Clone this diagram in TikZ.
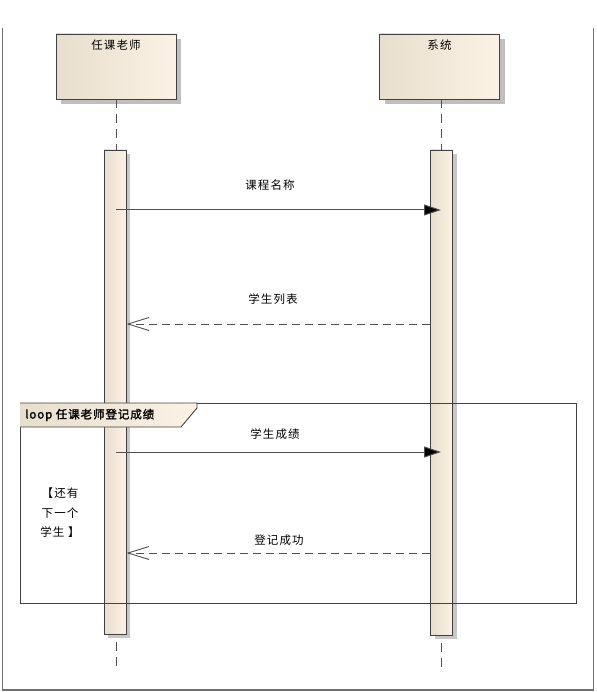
\documentclass[tikz,border=0pt]{standalone}
\usepackage{fontspec}
\setmainfont{Noto Sans CJK SC}[LetterSpace=10]
\newfontfamily\cjkbold{Noto Sans CJK SC}[FakeBold=1.6,LetterSpace=8]
\usetikzlibrary{arrows.meta,shadows}
\definecolor{beigeL}{HTML}{E8DECD}
\definecolor{beigeR}{HTML}{FBF2E5}
\definecolor{edge}{HTML}{404040}
\definecolor{msg}{HTML}{505050}
\definecolor{framec}{HTML}{707070}
\tikzset{
  actorbox/.style={draw=edge, line width=0.9pt, minimum width=120pt, minimum height=65pt,
    inner sep=0pt, shading=axis, left color=beigeL, middle color=beigeR, right color=beigeR,
    drop shadow={shadow xshift=5pt, shadow yshift=-5pt, fill=black!25, opacity=1}},
  actbar/.style={draw=edge, line width=0.9pt, minimum width=22pt, inner sep=0pt,
    shading=axis, left color=beigeL, middle color=beigeR, right color=beigeR,
    drop shadow={shadow xshift=4pt, shadow yshift=-4pt, fill=black!22, opacity=1}},
  lifeline/.style={draw=msg, line width=0.9pt, dash pattern=on 9pt off 6pt},
  syncmsg/.style={draw=msg, line width=1pt, -{Triangle[length=17pt,width=11pt,fill=black]}},
  retmsg/.style={draw=msg, line width=0.9pt, dash pattern=on 8pt off 5pt,
    -{Straight Barb[length=21pt,width=13pt,line width=0.9pt]}},
  lbl/.style={font=\fontsize{11.5}{13}\selectfont, inner sep=0pt},
}
\begin{document}
\begin{tikzpicture}[x=1pt,y=-1pt]
\useasboundingbox (0,0) rectangle (596,692);
% outer frame
\draw[framec, line width=1.3pt] (2.5,28) -- (2.5,690) -- (593.5,690) -- (593.5,28);

% actors
\node[actorbox] (teacher) at (116,66.5) {};
\node[lbl, anchor=north] (teacherlbl) at ([yshift=-6pt]teacher.north) {任课老师};
\node[actorbox] (system) at (439.5,66.5) {};
\node[lbl, anchor=north] (systemlbl) at ([yshift=-6pt]system.north) {系统};

% lifeline coordinates
\coordinate (tend) at (116,667);
\coordinate (send) at (441,667);

% activation bars
\node[actbar, minimum height=484pt] (barA) at (115,392) {};
\node[actbar, minimum height=485pt] (barB) at (441.5,392.5) {};

% lifelines
\draw[lifeline] (teacher.south) -- (barA.north -| teacher.south);
\draw[lifeline] ([yshift=-8pt]barA.south -| teacher.south) -- (tend);
\draw[lifeline] (system.south -| send) -- (barB.north -| send);
\draw[lifeline] ([yshift=-8pt]barB.south -| send) -- (send);

% messages
\coordinate (m1s) at (116,210); \coordinate (m1e) at (441,210);
\draw[syncmsg] (m1s) -- (m1e);
\node[lbl] (m1l) at (270,185) {课程名称};

\coordinate (m2s) at (430,324); \coordinate (m2e) at (126.5,324);
\draw[retmsg] (m2s) -- (m2e);
\node[lbl] (m2l) at (273,299) {学生列表};

% loop fragment
\draw[edge, line width=1pt] (20,403) rectangle (576,603);
\path[shading=axis, left color=beigeL, middle color=beigeR, right color=beigeR]
  (20,403) -- (197,403) -- (197,408) -- (181,427) -- (20,427) -- cycle;
\draw[edge, line width=0.9pt] (20,403) -- (197,403) -- (197,408) -- (181,427) -- (20,427);
\node[lbl, anchor=west] (looplbl) at (25,415) {\cjkbold loop 任课老师登记成绩};

\coordinate (m3s) at (116,452); \coordinate (m3e) at (441,452);
\draw[syncmsg] (m3s) -- (m3e);
\node[lbl] (m3l) at (275,434) {学生成绩};

\node[lbl, align=center, font=\fontsize{11.5}{19.5}\selectfont] (guard) at (60,513) {【还有\\下一个\\学生 】};

\coordinate (m4s) at (430,553); \coordinate (m4e) at (126.5,553);
\draw[retmsg] (m4s) -- (m4e);
\node[lbl] (m4l) at (279,540) {登记成功};
\end{tikzpicture}
\end{document}
